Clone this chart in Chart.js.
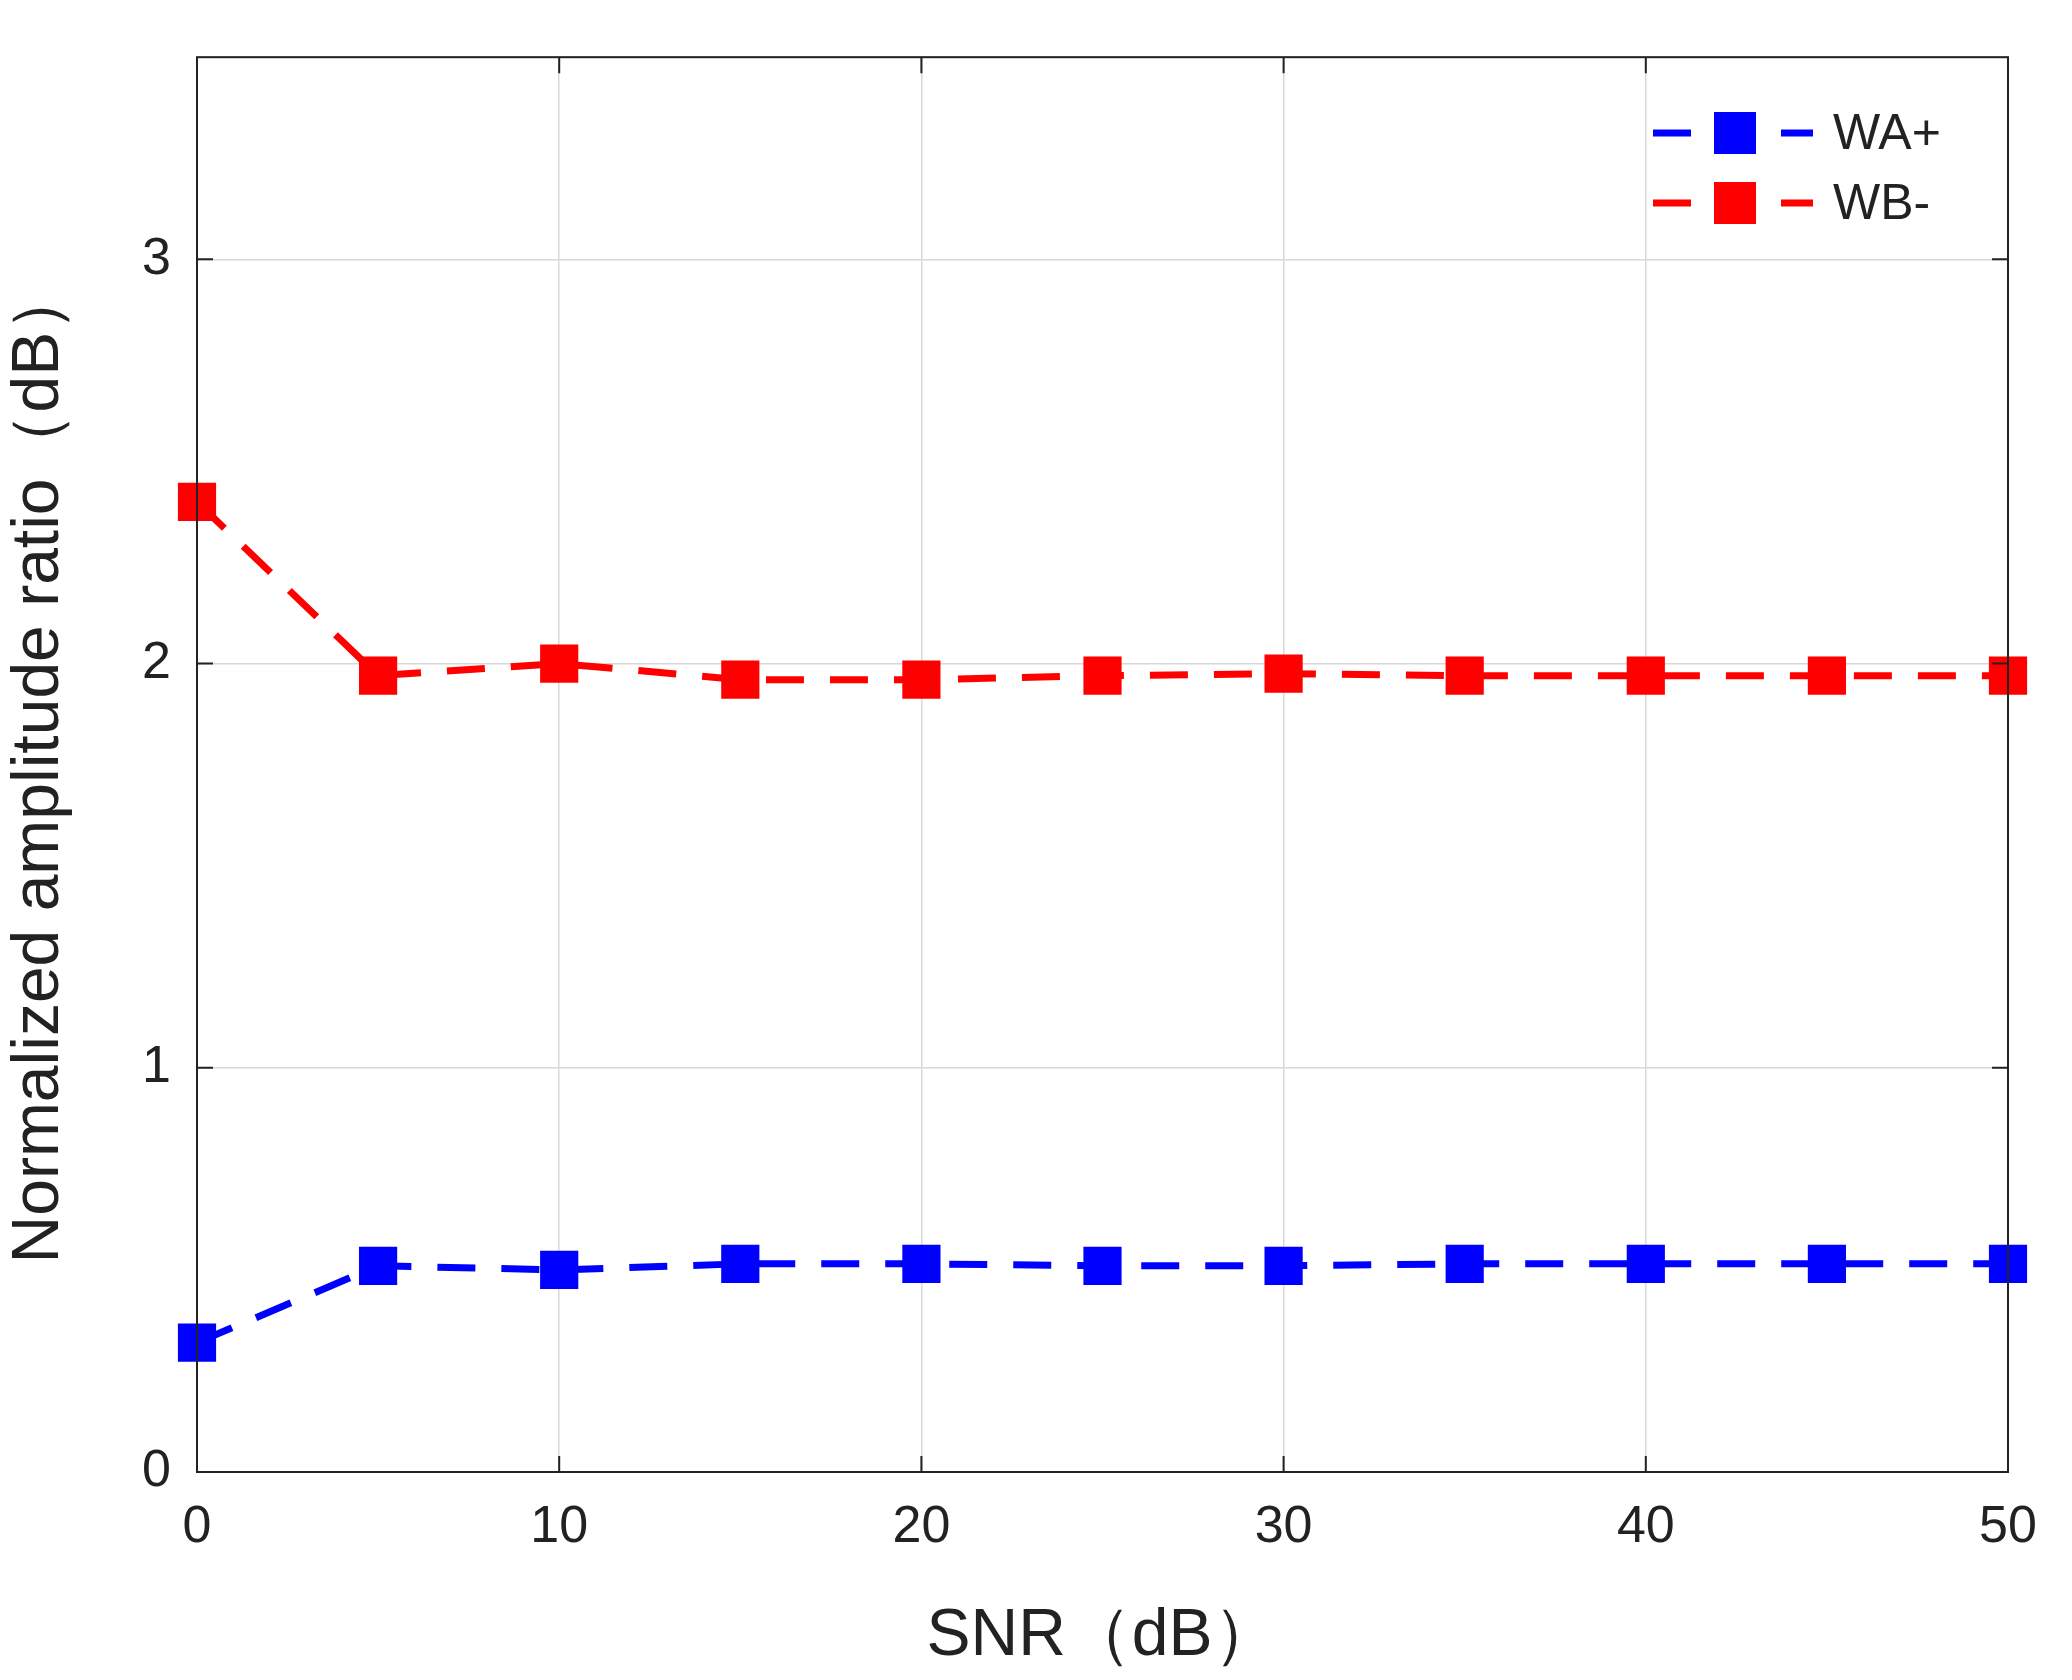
<!DOCTYPE html>
<html><head><meta charset="utf-8">
<script src="https://cdn.jsdelivr.net/npm/chart.js@4/dist/chart.umd.min.js"></script>
<style>html,body{margin:0;background:#fff}canvas{display:block}</style>
</head><body>
<canvas id="c" width="2072" height="1680" style="width:2072px;height:1680px"></canvas>
<script>
const snr = [0,5,10,15,20,25,30,35,40,45,50];
const wa = [0.32,0.51,0.50,0.515,0.515,0.51,0.51,0.515,0.515,0.515,0.515];
const wb = [2.40,1.97,2.00,1.96,1.96,1.97,1.975,1.97,1.97,1.97,1.97];
const seriesNames = ['WA+','WB-'];
const FONT = 'Arial, "Liberation Sans", sans-serif';

const frame = {
  id:'frame',
  afterDraw(ch){
    const c=ch.ctx,a=ch.chartArea,x=ch.scales.x,y=ch.scales.y;
    c.save();c.strokeStyle='#222';c.lineWidth=2;
    c.strokeRect(a.left,a.top,a.right-a.left,a.bottom-a.top);
    const L=16;
    c.beginPath();
    for(let v=0;v<=50;v+=10){const px=x.getPixelForValue(v);c.moveTo(px,a.bottom);c.lineTo(px,a.bottom-L);c.moveTo(px,a.top);c.lineTo(px,a.top+L);}
    for(let v=0;v<=3;v++){const py=y.getPixelForValue(v);c.moveTo(a.left,py);c.lineTo(a.left+L,py);c.moveTo(a.right,py);c.lineTo(a.right-L,py);}
    c.stroke();
    ch.data.datasets.forEach((d,i)=>{
      const yy=133+i*70;
      c.strokeStyle=d.borderColor;c.lineWidth=7;c.setLineDash([38,26]);
      c.beginPath();c.moveTo(1653,yy);c.lineTo(1813,yy);c.stroke();c.setLineDash([]);
      c.fillStyle=d.borderColor;c.fillRect(1735-21,yy-21,42,42);
      c.fillStyle='#222';c.font='50px '+FONT;c.textBaseline='middle';c.textAlign='left';
      c.fillText(d.label,1833,yy+2);
    });
    c.restore();
  }
};

const ds = (lbl,vals,col)=>({label:lbl,data:snr.map((s,i)=>({x:s,y:vals[i]})),borderColor:col,backgroundColor:col,borderWidth:7,borderDash:[38,26],pointStyle:'rect',pointRadius:27,pointHoverRadius:27,pointBorderWidth:0,clip:false});

new Chart(document.getElementById('c'),{
  type:'line',
  data:{datasets:[ds(seriesNames[0],wa,'#0000ff'),ds(seriesNames[1],wb,'#ff0000')]},
  options:{
    responsive:false,animation:false,devicePixelRatio:1,
    layout:{padding:{top:36,right:64,left:0,bottom:0}},
    plugins:{legend:{display:false},tooltip:{enabled:false}},
    scales:{
      x:{type:'linear',min:0,max:50,
        ticks:{stepSize:10,color:'#222',font:{size:52,family:FONT},padding:24},
        grid:{color:'#d8d8d8',lineWidth:1.5,drawTicks:false},border:{display:false},
        title:{display:true,text:'SNR（dB）',color:'#222',font:{size:66,family:FONT},padding:{top:4}},
        afterFit(s){s.height=208;}},
      y:{min:0,max:3.5,
        ticks:{stepSize:1,color:'#222',font:{size:52,family:FONT},padding:26,callback:v=>Number.isInteger(v)?v:''},
        grid:{color:'#d8d8d8',lineWidth:1.5,drawTicks:false},border:{display:false},
        title:{display:true,text:'Normalized amplitude ratio（dB）',color:'#222',font:{size:66,family:FONT},padding:{top:0,bottom:20}},
        afterFit(s){s.width=197;}}
    }
  },
  plugins:[frame]
});
</script>
</body></html>
